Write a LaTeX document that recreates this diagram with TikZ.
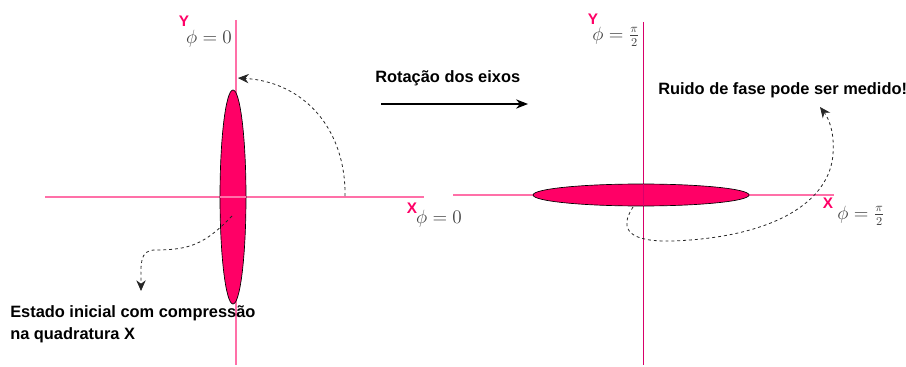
\documentclass[tikz,border=0pt]{standalone}
\usepackage{fontspec}
\setsansfont{Liberation Sans}
\usetikzlibrary{arrows.meta}
\definecolor{axpink}{HTML}{FF70A8}
\definecolor{axdeep}{HTML}{D8006A}
\definecolor{elfill}{HTML}{FF0066}
\definecolor{lbl}{HTML}{FF0066}
\tikzset{
  lab/.style={font=\sffamily\bfseries\fontsize{12.3}{17}\selectfont, inner sep=0pt},
  axlab/.style={font=\sffamily\bfseries\fontsize{11.5}{12}\selectfont, text=lbl, inner sep=0pt},
  phil/.style={font=\fontsize{13.5}{13.5}\selectfont, text=black!75, inner sep=0pt},
  dashcurve/.style={draw=black!85, line width=0.6pt, dash pattern=on 2.2pt off 2.2pt, -{Stealth[length=8pt,width=7pt]}},
  squeeze/.style={draw=black, line width=0.5pt, fill=elfill}
}
\begin{document}
\begin{tikzpicture}[x=0.75pt,y=-0.75pt]
\useasboundingbox (0,0) rectangle (906,367);
% left axes
\coordinate (lxa) at (45,197);
\coordinate (lxb) at (424,197);
\coordinate (lya) at (236,20);
\coordinate (lyb) at (236,365);
\draw[axpink, line width=0.9pt] (lxa) -- (lxb);
\draw[axpink, line width=0.9pt] (lya) -- (lyb);
% right axes
\coordinate (rxa) at (453,195);
\coordinate (rxb) at (834,195);
\coordinate (rya) at (643,22);
\coordinate (ryb) at (643,365);
\draw[axpink, line width=0.9pt] (rxa) -- (rxb);
\draw[axdeep, line width=0.6pt] (rya) -- (ryb);
% ellipses
\draw[squeeze] (233,197) ellipse [x radius=13, y radius=107];
\draw[squeeze] (641,195) ellipse [x radius=108, y radius=11];
\draw[axpink, line width=0.9pt] (220,197) -- (246,197);
\draw[axdeep, line width=0.6pt] (643,184) -- (643,206);
% axis labels
\node[axlab] (ly) at (184,21) {Y};
\node[axlab] (lx) at (412,208) {X};
\node[axlab] (ry) at (593,19) {Y};
\node[axlab] (rx) at (828,203) {X};
\node[phil] (p1) at (209,39) {$\phi=0$};
\node[phil] (p2) at (439,219) {$\phi=0$};
\node[phil] (p3) at (616,37) {$\phi=\frac{\pi}{2}$};
\node[phil] (p4) at (861,216) {$\phi=\frac{\pi}{2}$};
% texts
\node[lab, anchor=west] (rot) at (375,78) {Rotação dos eixos};
\node[lab, anchor=west] (rui) at (658,90) {Ruido de fase pode ser medido!};
\node[lab, anchor=north west, align=left] (est) at (10,305) {Estado inicial com compressão\\na quadratura X};
% rotation arrow
\coordinate (ra) at (381,104);
\coordinate (rb) at (528,104);
\draw[line width=0.8pt, -{Stealth[length=9pt,width=7pt]}] (ra) -- (rb);
% dashed curves
\coordinate (c1a) at (345,196);
\coordinate (c1b) at (238,78);
\draw[dashcurve] (c1a) .. controls (346,130) and (305,82) .. (c1b);
\coordinate (c2a) at (232,216);
\coordinate (c2m) at (155,250);
\coordinate (c2b) at (141,291);
\draw[dashcurve] (c2a) .. controls (205,244) and (190,250) .. (c2m) .. controls (139,250) and (141,265) .. (c2b);
\coordinate (c3a) at (633,207);
\coordinate (c3m) at (672,241);
\coordinate (c3n) at (832,162);
\coordinate (c3b) at (820,107);
\draw[dashcurve] (c3a) .. controls (618,230) and (630,242) .. (c3m) .. controls (760,238) and (822,210) .. (c3n) .. controls (836,138) and (830,120) .. (c3b);
\end{tikzpicture}
\end{document}
